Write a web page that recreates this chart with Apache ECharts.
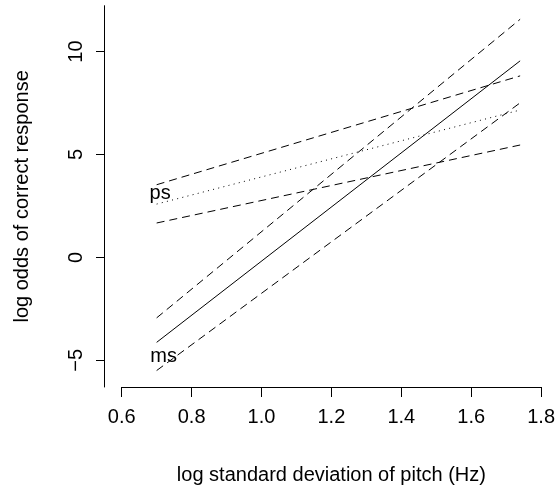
<!DOCTYPE html>
<html>
<head>
<meta charset="utf-8">
<script src="https://cdn.jsdelivr.net/npm/echarts@6/dist/echarts.min.js"></script>
<style>
  html, body { margin: 0; padding: 0; background: #fff; }
  #chart { width: 558px; height: 490px; }
</style>
</head>
<body>
<div id="chart"></div>
<script>
// Fitted log-odds lines (with confidence bands) against log pitch SD
const xRange = [0.70, 1.74];

const msFit   = [-4.13, 9.55];
const msUpper = [-2.94, 11.57];
const msLower = [-5.50, 7.51];

const psFit   = [2.59, 7.16];
const psUpper = [3.53, 8.82];
const psLower = [1.67, 5.46];

// Text labels naming each condition: [x, y, name]
const conditionLabels = [
  [0.71, 3.10, 'ps'],
  [0.72, -4.82, 'ms']
];

const xTicks = [0.6, 0.8, 1.0, 1.2, 1.4, 1.6, 1.8];
const yTicks = [-5, 0, 5, 10];

const FONT = 'Liberation Sans, Arial, Helvetica, sans-serif';

function pts(ys) {
  return xRange.map((x, i) => [x, ys[i]]);
}

function lineSeries(name, ys, type) {
  return {
    name: name,
    type: 'line',
    data: pts(ys),
    showSymbol: false,
    symbol: 'none',
    silent: true,
    animation: false,
    lineStyle: { color: '#000', width: 1, type: type, cap: 'butt' }
  };
}

const DASH = [8, 5];
const DOT = [1, 4.3];

const chart = echarts.init(document.getElementById('chart'), null, { renderer: 'canvas' });

chart.setOption({
  animation: false,
  backgroundColor: '#fff',
  textStyle: { fontFamily: FONT, color: '#000' },
  grid: { left: 121.7, right: 15.3, top: 5.7, bottom: 102.7, containLabel: false },
  xAxis: {
    type: 'value',
    min: xTicks[0],
    max: xTicks[xTicks.length - 1],
    interval: 0.2,
    name: 'log standard deviation of pitch (Hz)',
    nameLocation: 'middle',
    nameGap: 78,
    nameTextStyle: { fontSize: 20, color: '#000', fontFamily: FONT },
    axisLine: { show: true, onZero: false, lineStyle: { color: '#000', width: 1 } },
    axisTick: { show: true, length: 10, lineStyle: { color: '#000', width: 1 } },
    axisLabel: {
      fontSize: 20, color: '#000', fontFamily: FONT, margin: 20,
      formatter: v => v.toFixed(1),
      showMinLabel: true, showMaxLabel: true
    },
    splitLine: { show: false }
  },
  yAxis: {
    type: 'value',
    min: -6.3,
    max: 12.23,
    offset: 17.7,
    name: 'log odds of correct response',
    nameLocation: 'middle',
    nameRotate: 90,
    nameGap: 72,
    nameTextStyle: { fontSize: 20, color: '#000', fontFamily: FONT },
    axisLine: { show: true, onZero: false, lineStyle: { color: '#000', width: 1 } },
    axisTick: { show: true, length: 8, customValues: yTicks, lineStyle: { color: '#000', width: 1 } },
    axisLabel: {
      fontSize: 20, color: '#000', fontFamily: FONT, margin: 18, rotate: 90,
      customValues: yTicks,
      formatter: v => (v < 0 ? '\u2212' + Math.abs(v) : String(v))
    },
    splitLine: { show: false }
  },
  series: [
    lineSeries('ms', msFit, 'solid'),
    lineSeries('ms upper', msUpper, DASH),
    lineSeries('ms lower', msLower, DASH),
    lineSeries('ps', psFit, DOT),
    lineSeries('ps upper', psUpper, DASH),
    lineSeries('ps lower', psLower, DASH),
    {
      type: 'scatter',
      data: conditionLabels.map(d => ({ value: [d[0], d[1]], name: d[2] })),
      symbolSize: 0,
      silent: true,
      itemStyle: { opacity: 1, color: '#000' },
      label: {
        show: true,
        position: 'inside',
        formatter: p => p.name,
        fontSize: 20,
        color: '#000',
        opacity: 1,
        textBorderWidth: 0,
        fontFamily: FONT
      }
    }
  ]
});
</script>
</body>
</html>
